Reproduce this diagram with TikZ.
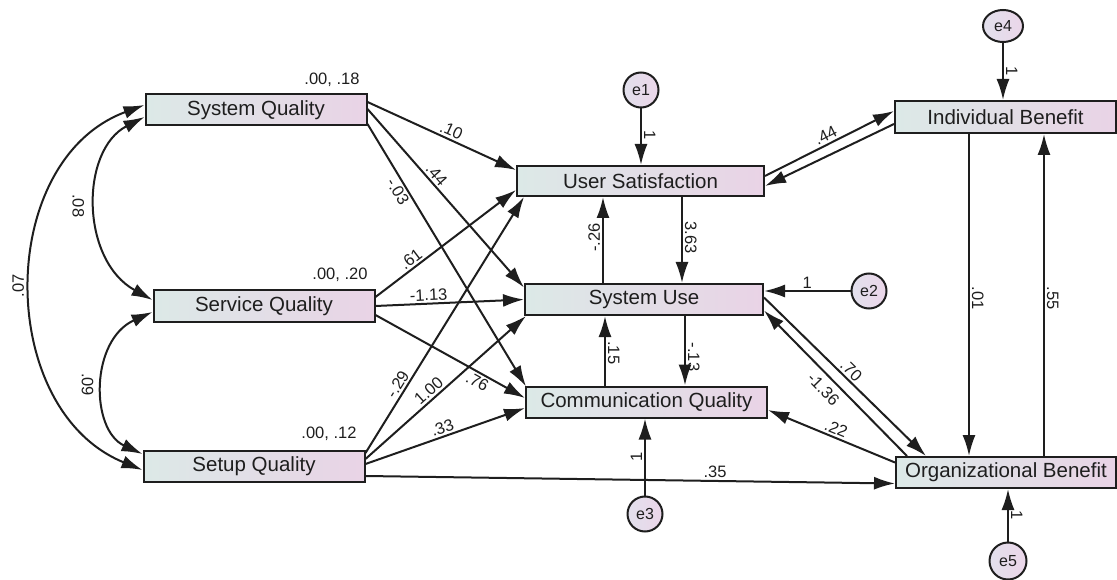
\documentclass[tikz,border=0pt]{standalone}
\usepackage{fontspec}
\setmainfont{Liberation Sans}
\usetikzlibrary{arrows.meta,calc,shapes.geometric}
\definecolor{boxleft}{HTML}{DCE9E7}
\definecolor{boxright}{HTML}{E9D3E6}
\definecolor{errleft}{HTML}{E2E0EC}
\definecolor{errright}{HTML}{EBD6E9}
\definecolor{ink}{HTML}{1E1E1E}

\begin{document}
\begin{tikzpicture}[x=1pt,y=-1pt,
  box/.style={draw=ink, line width=2pt, left color=boxleft, right color=boxright,
    minimum height=31pt, inner sep=0pt, text=ink, font=\fontsize{20.5}{24}\selectfont},
  err/.style={circle, draw=ink, line width=2pt, left color=errleft, right color=errright,
    minimum size=35pt, inner sep=0pt, text=ink, font=\fontsize{16}{18}\selectfont},
  tip/.tip={Latex[length=21pt,width=13pt]},
  arr/.style={draw=ink, line width=2pt, -tip},
  cov/.style={draw=ink, line width=2pt, tip-tip},
  lbl/.style={font=\fontsize{16.5}{18}\selectfont, text=ink, inner sep=2pt},
  vup/.style={lbl, rotate=90, anchor=south},
  vdn/.style={lbl, rotate=-90, anchor=south},
]
\useasboundingbox (0,0) rectangle (1117,580);

% observed variables
\node[box, minimum width=221pt] (sysq)  at (256,110)    {System Quality};
\node[box, minimum width=221pt] (servq) at (264,306)    {Service Quality};
\node[box, minimum width=221pt] (setq)  at (254,466)    {Setup Quality};
\node[box, minimum width=247pt, minimum height=30pt] (us) at (640.5,181) {User Satisfaction};
\node[box, minimum width=238pt] (su)    at (644,299.5)  {System Use};
\node[box, minimum width=241pt] (cq)    at (646.5,402)  {Communication Quality};
\node[box, minimum width=221pt, minimum height=32pt] (ib) at (1005.5,117) {Individual Benefit};
\node[box, minimum width=220pt] (ob)    at (1006,472.5) {Organizational Benefit};

% means and variances of the exogenous variables
\node[lbl] (msysq)  at (332,80)  {.00, .18};
\node[lbl] (mservq) at (340,275) {.00, .20};
\node[lbl] (msetq)  at (329,434) {.00, .12};

% error terms
\node[err] (e1) at (641,90)  {e1};
\node[err] (e2) at (869,291) {e2};
\node[err] (e3) at (645,514) {e3};
\node[err, ellipse, minimum width=40pt, minimum height=32pt] (e4) at (1003,26) {e4};
\node[err, minimum size=37pt] (e5) at (1008,561) {e5};

% covariances among the exogenous variables
\draw[cov] ($(sysq.west)+(0,7)$) .. controls (80,150) and (80,260) .. ($(servq.west)+(0,-6)$)
  node[lbl, pos=.5, rotate=-90, anchor=north, outer sep=11pt] {.08};
\draw[cov] ($(servq.west)+(0,6)$) .. controls (90,340) and (90,430) .. ($(setq.west)+(0,-12)$)
  node[lbl, pos=.5, rotate=-90, anchor=north, outer sep=9pt] {.09};
\draw[cov] ($(sysq.west)+(0,-5)$) .. controls (-5,160) and (-5,410) .. ($(setq.west)+(0,4)$)
  node[lbl, pos=.5, rotate=90, anchor=south, outer sep=6pt] {.07};

% paths from System Quality
\draw[arr] ($(sysq.east)+(0,-8)$) -- ($(us.west)+(0,-11)$) node[lbl, pos=.54, sloped, above] {.10};
\draw[arr] ($(sysq.east)+(0,-1)$) -- ($(su.west)+(0,-12)$) node[lbl, pos=.40, sloped, above] {.44};
\draw[arr] ($(sysq.east)+(0,14)$) -- ($(cq.north west)+(1,1)$) node[lbl, pos=.24, sloped, below] {-.03};

% paths from Service Quality
\draw[arr] ($(servq.east)+(0,-9)$) -- ($(us.west)+(0,9)$) node[lbl, pos=.29, sloped, above] {.61};
\draw[arr] (servq.east) -- (su.west) node[lbl, pos=.36, sloped, above] {-1.13};
\draw[arr] ($(servq.east)+(0,9)$) -- ($(cq.west)+(0,-4)$) node[lbl, pos=.71, sloped, below] {.76};

% paths from Setup Quality
\draw[arr] ($(setq.east)+(0,-13)$) -- ($(us.south west)+(8,0)$) node[lbl, pos=.25, sloped, above] {-.29};
\draw[arr] ($(setq.east)+(0,-7)$) -- ($(su.south west)+(2,0)$) node[lbl, pos=.43, sloped, above] {1.00};
\draw[arr] ($(setq.east)+(0,-2)$) -- ($(cq.west)+(0,6)$) node[lbl, pos=.50, sloped, above] {.33};
\draw[arr] ($(setq.east)+(0,10)$) -- ($(ob.west)+(0,11)$) node[lbl, pos=.66, above] {.35};

% User Satisfaction, System Use and Communication Quality
\coordinate (a1) at ($(su.north)+(-41,0)$);
\coordinate (b1) at ($(us.south)+(41.5,0)$);
\coordinate (c1) at ($(cq.north)+(-41.5,0)$);
\coordinate (d1) at ($(su.south)+(41,0)$);
\draw[arr] (a1) -- (a1 |- us.south) node[vup, pos=.53] {-.26};
\draw[arr] (b1) -- (b1 |- su.north) node[vdn, pos=.47] {3.63};
\draw[arr] (c1) -- (c1 |- su.south) node[vdn, pos=.47] {.15};
\draw[arr] (d1) -- (d1 |- cq.north) node[vdn, pos=.59] {-.13};

% net benefits
\draw[arr] ($(us.east)+(0,-5)$) -- ($(ib.west)+(0,-6)$) node[lbl, pos=.5, sloped, above] {.44};
\draw[arr] ($(ib.west)+(0,7)$) -- ($(us.east)+(0,5)$);
\coordinate (f1) at ($(ib.south)+(-36.5,0)$);
\coordinate (g1) at ($(ob.north)+(38,0)$);
\draw[arr] (f1) -- (f1 |- ob.north) node[vdn, pos=.51] {.01};
\draw[arr] (g1) -- (g1 |- ib.south) node[vdn, pos=.49] {.55};
\draw[arr] ($(su.east)+(0,-2)$) -- ($(ob.north west)+(31,0)$) node[lbl, pos=.5, sloped, above] {.70};
\draw[arr] ($(ob.north west)+(12,0)$) -- ($(su.east)+(0,11)$)
  node[lbl, pos=.52, sloped, below, outer sep=5pt] {-1.36};
\draw[arr] ($(ob.west)+(0,-10)$) -- ($(cq.east)+(0,8)$) node[lbl, pos=.49, sloped, above] {.22};

% error terms onto their variables
\draw[arr] (e1) -- (e1 |- us.north) node[vdn, pos=.47] {1};
\draw[arr] (e2) -- (e2 -| su.east) node[lbl, pos=.5, above] {1};
\draw[arr] (e3) -- (e3 |- cq.south) node[vup, pos=.5] {1};
\draw[arr] (e4) -- (e4 |- ib.north) node[vdn, pos=.5] {1};
\draw[arr] (e5) -- (e5 |- ob.south) node[vdn, pos=.5] {1};
\end{tikzpicture}
\end{document}
